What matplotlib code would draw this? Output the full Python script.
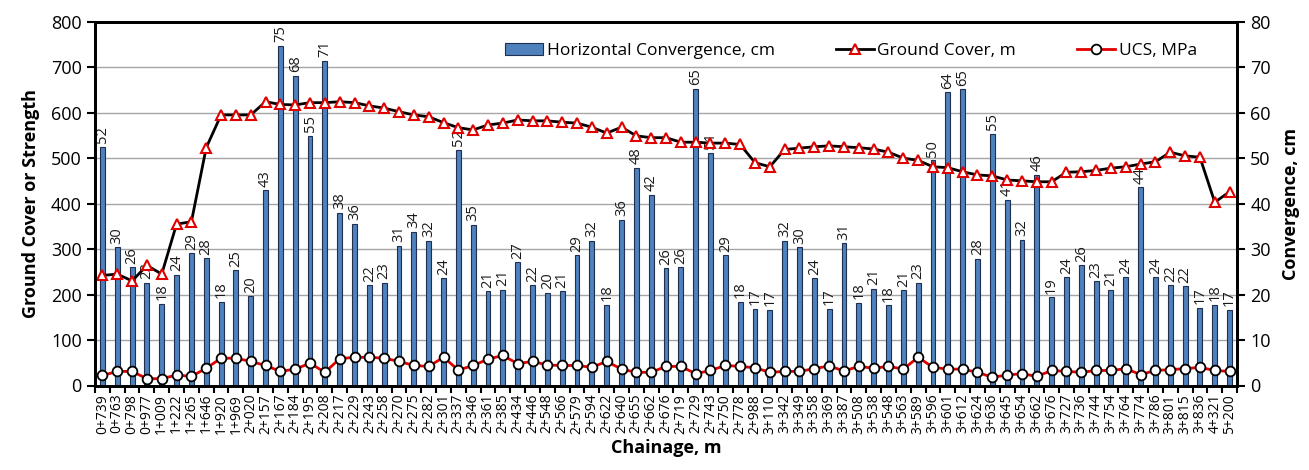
import numpy as np
import matplotlib.pyplot as plt
from matplotlib.ticker import MultipleLocator, FixedLocator

plt.rcParams["font.family"] = ["Open Sans", "DejaVu Sans"]

# ============================================================
# Data
# ============================================================
chainage = [
    "0+739", "0+763", "0+798", "0+977", "1+009", "1+222", "1+265", "1+646", "1+920", "1+969",
    "2+020", "2+157", "2+167", "2+184", "2+195", "2+208", "2+217", "2+229", "2+243", "2+258",
    "2+270", "2+275", "2+282", "2+301", "2+337", "2+346", "2+361", "2+385", "2+434", "2+446",
    "2+548", "2+566", "2+579", "2+594", "2+622", "2+640", "2+655", "2+662", "2+676", "2+719",
    "2+729", "2+743", "2+750", "2+778", "2+988", "3+110", "3+342", "3+349", "3+358", "3+369",
    "3+387", "3+508", "3+538", "3+548", "3+563", "3+589", "3+596", "3+601", "3+612", "3+624",
    "3+636", "3+645", "3+654", "3+662", "3+676", "3+727", "3+736", "3+744", "3+754", "3+764",
    "3+774", "3+786", "3+801", "3+815", "3+836", "4+321", "5+200",
]

# horizontal convergence, cm (right axis)
convergence = [
    52.5, 30.4, 26.0, 22.6, 17.9, 24.4, 29.1, 28.0, 18.4, 25.3,
    19.6, 42.9, 74.7, 68.1, 54.9, 71.4, 38.0, 35.5, 22.0, 22.6,
    30.7, 33.8, 31.8, 23.6, 51.8, 35.3, 20.7, 21.1, 27.1, 22.0,
    20.4, 20.7, 28.6, 31.8, 17.8, 36.4, 47.8, 42.0, 25.8, 26.0,
    65.3, 51.1, 28.6, 18.4, 16.8, 16.6, 31.8, 30.4, 23.6, 16.8,
    31.3, 18.2, 21.3, 17.6, 20.9, 22.6, 49.5, 64.5, 65.1, 27.8,
    55.3, 40.9, 32.0, 46.3, 19.4, 23.8, 26.4, 22.9, 21.1, 23.8,
    43.6, 23.8, 22.0, 21.8, 17.1, 17.8, 16.6,
]

# ground cover, m (left axis)
ground_cover = [
    242, 245, 230, 264, 245, 355, 360, 523, 595, 595,
    595, 624, 618, 617, 622, 622, 624, 622, 615, 610,
    602, 595, 591, 578, 567, 562, 573, 577, 584, 582,
    582, 579, 577, 568, 555, 568, 549, 545, 545, 535,
    535, 533, 533, 530, 490, 481, 519, 522, 525, 527,
    525, 523, 520, 513, 500, 495, 481, 479, 470, 463,
    461, 452, 450, 448, 448, 469, 470, 473, 478, 481,
    487, 492, 513, 505, 502, 403, 426,
]

# UCS, MPa (left axis)
ucs = [
    22, 31, 31, 15, 15, 23, 20, 38, 60, 60,
    53, 44, 31, 36, 49, 29, 59, 62, 62, 60,
    53, 44, 42, 62, 34, 44, 58, 66, 48, 53,
    45, 44, 44, 40, 53, 36, 29, 29, 42, 42,
    26, 33, 44, 42, 39, 29, 31, 31, 37, 43,
    32, 42, 38, 42, 36, 62, 40, 36, 36, 29,
    18, 23, 26, 20, 33, 31, 29, 33, 33, 37,
    24, 33, 35, 37, 40, 33, 31,
]

# ============================================================
# Plot
# ============================================================
fig = plt.figure(figsize=(13.09, 4.70), dpi=100)
ax = fig.add_axes([95 / 1309, 1 - 385.5 / 470, (1237 - 95) / 1309, (385.5 - 21.7) / 470])
ax2 = ax.twinx()

x = np.arange(len(chainage))

# bars on the right axis, kept underneath the lines
bars = ax2.bar(x, convergence, width=0.33, color="#4F81BD", edgecolor="#1F2F4F",
               linewidth=0.8, zorder=2, label="Horizontal Convergence, cm")
for xi, v in zip(x, convergence):
    ax2.text(xi, v + 0.8, f"{v:.0f}", rotation=90, ha="center", va="bottom",
             fontsize=10.5, color="#1a1a1a", zorder=3)

ax2.set_ylim(0, 80)
ax2.yaxis.set_major_locator(MultipleLocator(10))
ax2.set_axisbelow(True)
ax2.grid(axis="y", color="#A6A6A6", linewidth=1.0, zorder=0)

ax.set_zorder(ax2.get_zorder() + 1)
ax.patch.set_visible(False)

l1, = ax.plot(x, ground_cover, color="black", linewidth=2, marker="^", markersize=7,
              markerfacecolor="white", markeredgecolor="#E00000", markeredgewidth=1.5,
              label="Ground Cover, m")
l2, = ax.plot(x, ucs, color="#E00000", linewidth=2, marker="o", markersize=7,
              markerfacecolor="white", markeredgecolor="black", markeredgewidth=1.3,
              label="UCS, MPa")

ax.set_ylim(0, 800)
ax.set_xlim(-0.5, len(chainage) - 0.5)
ax.yaxis.set_major_locator(MultipleLocator(100))

ax.set_xticks(x)
ax.set_xticklabels(chainage, rotation=90, fontsize=10)
ax.xaxis.set_minor_locator(FixedLocator(np.arange(-0.5, len(chainage), 1.0)))
ax.tick_params(axis="x", which="major", length=0, pad=6)
ax.tick_params(axis="x", which="minor", length=5, width=1.5)
ax.tick_params(axis="y", labelsize=13, length=6, width=1.5)
ax2.tick_params(axis="y", labelsize=13, length=6, width=1.5)

for a in (ax, ax2):
    for s in a.spines.values():
        s.set_linewidth(2)

ax.set_xlabel("Chainage, m", fontsize=13, fontweight="bold", labelpad=4)
ax.set_ylabel("Ground Cover or Strength", fontsize=13, fontweight="bold", labelpad=8)
ax2.set_ylabel("Convergence, cm", fontsize=13, fontweight="bold", labelpad=8)

ax.legend(handles=[bars, l1, l2], loc="upper center", bbox_to_anchor=(0.662, 0.985),
          ncol=3, frameon=False, fontsize=12.5, handlelength=2.2, columnspacing=3.5,
          handletextpad=0.2)

plt.savefig("out.png", dpi=100)
plt.close(fig)
